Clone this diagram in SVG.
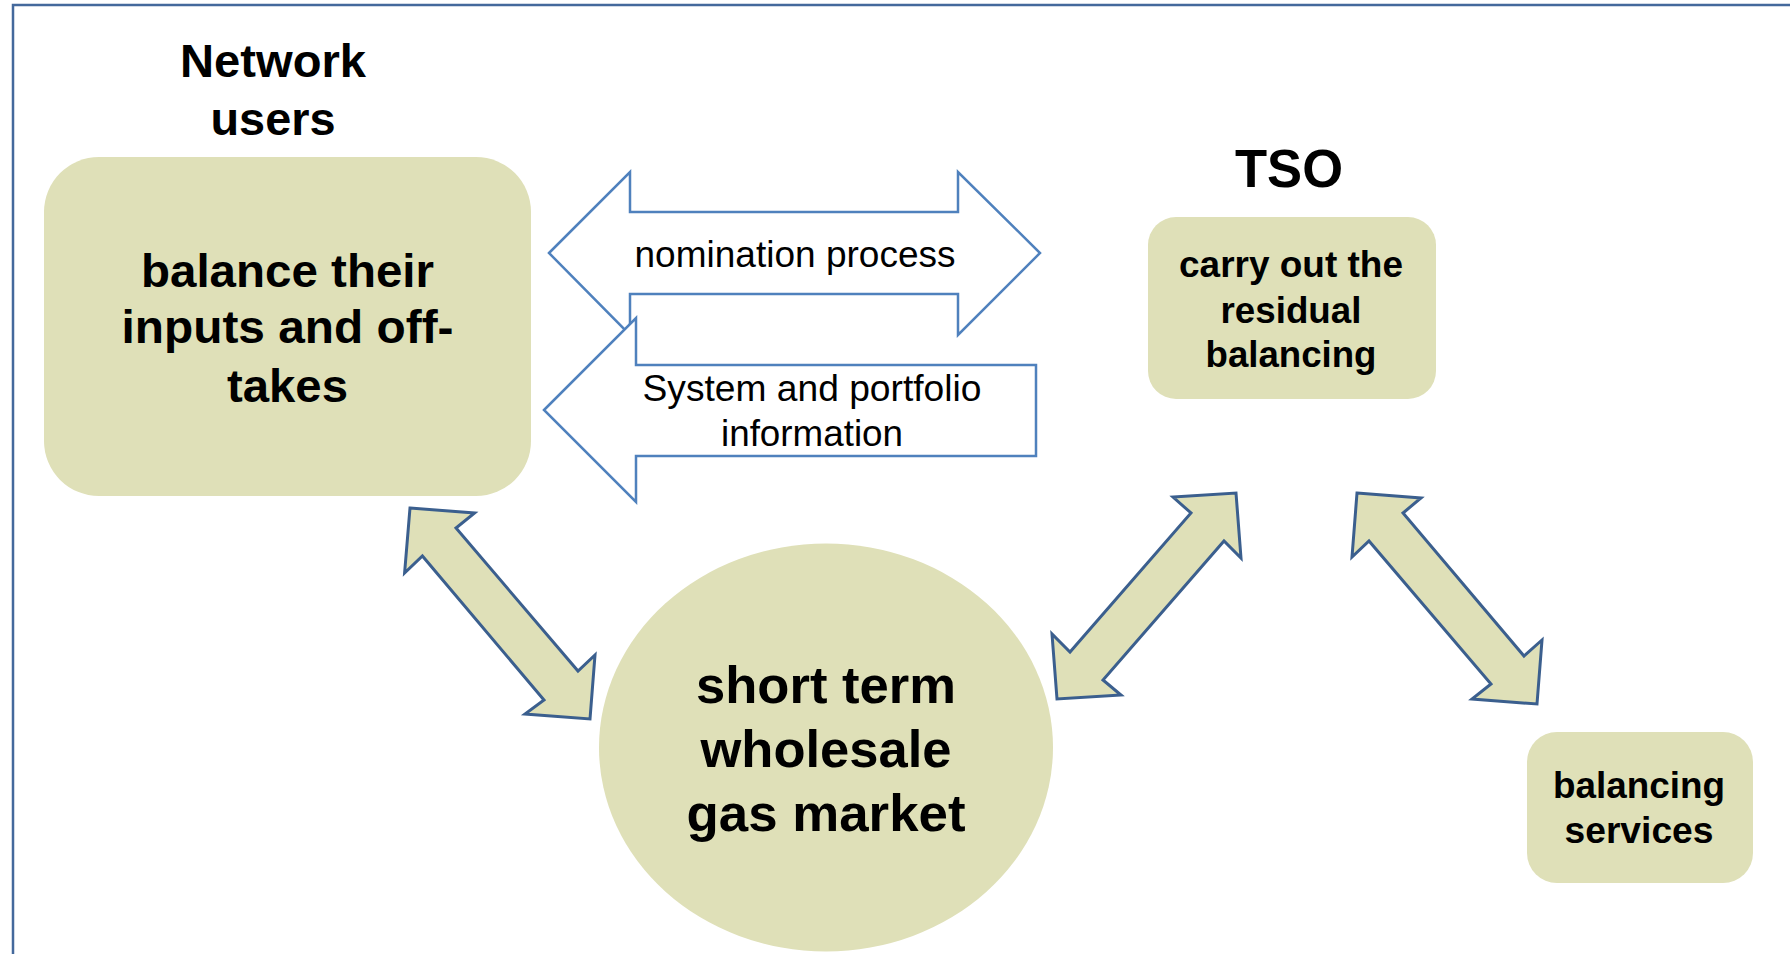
<svg xmlns="http://www.w3.org/2000/svg" width="1790" height="954" viewBox="0 0 1790 954">
<style>
.bg{fill:#ffffff}
.frame{fill:none;stroke:#44699c;stroke-width:2.5}
.node{fill:#dfe0b8}
.flow{fill:#ffffff;stroke:#4f81bd;stroke-width:2.5;stroke-linejoin:miter}
.link{fill:#dfe0b8;stroke:#3b5f8e;stroke-width:3;stroke-linejoin:miter}
.t{font-family:"Liberation Sans",Arial,sans-serif;fill:#000000;text-anchor:middle}
.b{font-weight:bold}
</style>
<rect class="bg" x="0" y="0" width="1790" height="954"/>
<rect class="frame" x="13" y="5" width="1800" height="1000"/>

<g id="network-users-title">
<text class="t b" font-size="47" x="273" y="77" textLength="186" lengthAdjust="spacingAndGlyphs">Network</text>
<text class="t b" font-size="47" x="273" y="135" textLength="125" lengthAdjust="spacingAndGlyphs">users</text>
</g>

<g id="network-users">
<rect class="node" x="44" y="157" width="487" height="339" rx="55" ry="55"/>
<text class="t b" font-size="47" x="287.5" y="287" textLength="293" lengthAdjust="spacingAndGlyphs">balance their</text>
<text class="t b" font-size="47" x="287.5" y="343" textLength="332" lengthAdjust="spacingAndGlyphs">inputs and off-</text>
<text class="t b" font-size="47" x="287.5" y="402" textLength="121" lengthAdjust="spacingAndGlyphs">takes</text>
</g>

<g id="tso-title">
<text class="t b" font-size="53" x="1289" y="187" textLength="108" lengthAdjust="spacingAndGlyphs">TSO</text>
</g>

<g id="tso">
<rect class="node" x="1148" y="217" width="288" height="182" rx="28" ry="28"/>
<text class="t b" font-size="37" x="1291" y="277" textLength="224" lengthAdjust="spacingAndGlyphs">carry out the</text>
<text class="t b" font-size="37" x="1291" y="323" textLength="141" lengthAdjust="spacingAndGlyphs">residual</text>
<text class="t b" font-size="37" x="1291" y="367" textLength="171" lengthAdjust="spacingAndGlyphs">balancing</text>
</g>

<g id="market">
<ellipse class="node" cx="826" cy="747.5" rx="227" ry="204"/>
<text class="t b" font-size="52" x="826" y="703" textLength="260" lengthAdjust="spacingAndGlyphs">short term</text>
<text class="t b" font-size="52" x="826" y="767" textLength="251" lengthAdjust="spacingAndGlyphs">wholesale</text>
<text class="t b" font-size="52" x="826" y="831" textLength="279" lengthAdjust="spacingAndGlyphs">gas market</text>
</g>

<g id="balancing-services">
<rect class="node" x="1527" y="732" width="226" height="151" rx="30" ry="30"/>
<text class="t b" font-size="37" x="1639" y="798" textLength="172" lengthAdjust="spacingAndGlyphs">balancing</text>
<text class="t b" font-size="37" x="1639" y="843" textLength="149" lengthAdjust="spacingAndGlyphs">services</text>
</g>

<g id="connectors">
<path class="flow" d="M549,253 L630,172 L630,212 L958,212 L958,172 L1040,253 L958,335 L958,294 L630,294 L630,335 Z"/>
<text class="t" font-size="37" x="795" y="267" textLength="321" lengthAdjust="spacingAndGlyphs">nomination process</text>
<path class="flow" d="M544,410 L636,318 L636,365 L1036,365 L1036,456 L636,456 L636,502 Z"/>
<text class="t" font-size="37" x="812" y="401" textLength="339" lengthAdjust="spacingAndGlyphs">System and portfolio</text>
<text class="t" font-size="37" x="812" y="446" textLength="182" lengthAdjust="spacingAndGlyphs">information</text>
<path class="link" d="M410,508 L474.6,513 L456,528 L578,671 L595,655 L590,719 L525,714 L544,700 L422.4,556 L404.6,573 Z"/>
<path class="link" d="M1236,493 L1241,558 L1224,541 L1103,680 L1121,695 L1057,699 L1052,634 L1070,652 L1191,513 L1173,497 Z"/>
<path class="link" d="M1357,493 L1421,498 L1403,513 L1524,656 L1542,640 L1537,704 L1472,699 L1491,684 L1369,541 L1352,557 Z"/>
</g>
</svg>
